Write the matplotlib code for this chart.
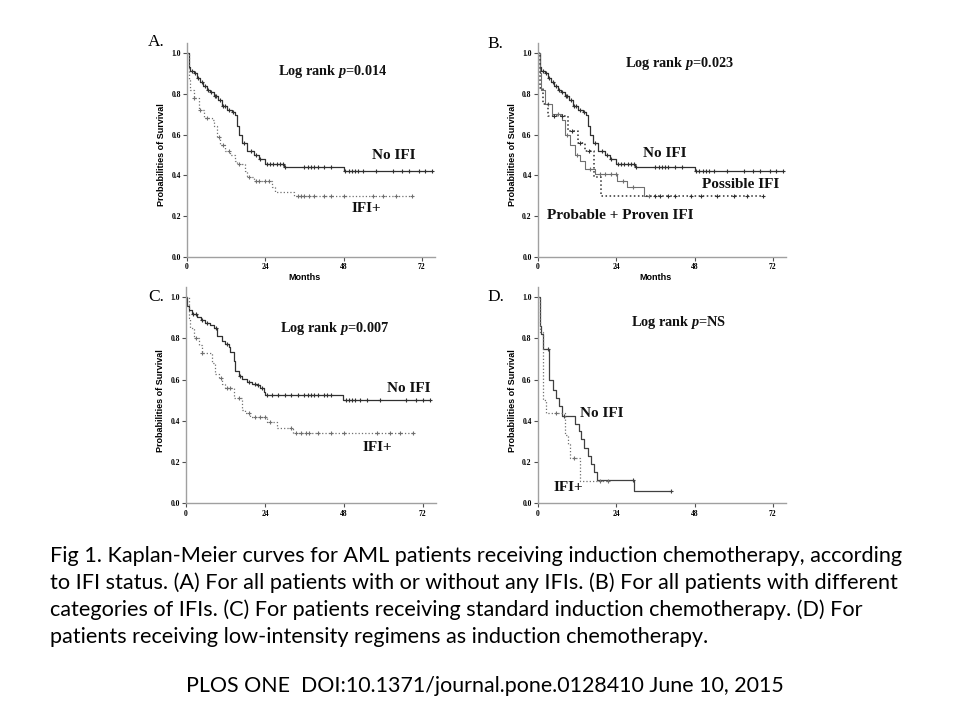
import numpy as np
import matplotlib as mpl
mpl.use('Agg')
import matplotlib.pyplot as plt

# --- survival step data (time in months) ---
# Panel A / B: no IFI
noifi_t = [0, 0.5, 1.0, 2.0, 3.0, 4.1, 5.0, 6.1, 7.0, 8.2, 9.5, 10.7, 12.3, 13.8, 14.8,
           15.3, 15.8, 16.9, 18.4, 20.4, 22.0, 24.0, 29.8, 48.0]
noifi_s = [1.0, 0.93, 0.91, 0.90, 0.88, 0.86, 0.84, 0.82, 0.81, 0.79, 0.77, 0.74, 0.72, 0.71, 0.695,
           0.64, 0.60, 0.56, 0.52, 0.50, 0.48, 0.455, 0.44, 0.42]
noifi_end = 75.0
noifi_cens = [1.5, 2.5, 3.5, 4.5, 5.5, 6.5, 7.5, 8.5, 9.0, 10.0, 11.0, 11.5, 13.0, 14.0, 17.5, 19.5,
              21.0, 22.5, 24.5, 25.5, 26.5, 27.5, 28.5, 29.3, 30.0, 36.0, 37.0, 38.0, 39.0, 40.0,
              42.0, 44.0, 48.5, 49.5, 50.5, 51.5, 52.5, 54.0, 58.0, 63.0, 66.0, 68.0, 71.0, 73.0, 75.0]

# Panel A: IFI+
ifi_t = [0, 0.5, 1.0, 2.0, 3.6, 5.1, 7.7, 8.2, 9.2, 10.2, 11.7, 13.3, 14.8, 15.3, 17.9, 18.4,
         20.4, 26.0, 27.1, 32.9]
ifi_s = [1.0, 0.87, 0.82, 0.78, 0.72, 0.68, 0.67, 0.64, 0.59, 0.55, 0.52, 0.50, 0.47, 0.455, 0.42, 0.39,
         0.373, 0.343, 0.32, 0.30]
ifi_end = 68.9
ifi_cens = [2.2, 4.0, 6.0, 9.8, 11.0, 13.0, 16.0, 19.0, 21.0, 22.0, 24.0, 25.0, 34.0, 35.0, 36.0,
            37.5, 39.0, 42.0, 44.0, 48.0, 57.0, 60.0, 64.0, 68.9]

# Panel B: possible IFI and probable + proven IFI
poss_t = [0, 0.5, 1.0, 2.3, 4.3, 7.4, 8.4, 9.9, 11.4, 13.0, 14.5, 17.5, 24.3, 27.4, 32.5]
poss_s = [1.0, 0.90, 0.82, 0.75, 0.70, 0.67, 0.60, 0.55, 0.50, 0.47, 0.43, 0.405, 0.373, 0.343, 0.30]
poss_end = 34.0
poss_cens = [3.0, 6.0, 9.0, 12.0, 16.0, 19.0, 20.5, 22.5, 24.0, 26.0, 29.0, 34.0]

prob_t = [0, 0.7, 1.5, 3.0, 9.1, 12.2, 14.5, 17.1, 19.2]
prob_s = [1.0, 0.83, 0.75, 0.69, 0.62, 0.56, 0.52, 0.39, 0.30]
prob_end = 68.9
prob_cens = [5.0, 7.5, 10.5, 13.0, 15.5, 36.0, 37.5, 40.0, 42.0, 47.0, 50.0, 55.0, 60.0, 64.0, 68.9]

# Panel C: standard induction
cno_t = [0, 0.3, 0.8, 1.8, 3.3, 4.4, 5.9, 7.4, 8.4, 9.4, 10.9, 11.9, 13.0, 13.5, 14.5, 15.0, 16.0,
         17.0, 18.5, 20.1, 21.6, 22.6, 23.6, 24.1, 47.7]
cno_s = [1.0, 0.96, 0.94, 0.92, 0.905, 0.89, 0.875, 0.865, 0.85, 0.81, 0.79, 0.775, 0.76, 0.735,
         0.69, 0.64, 0.62, 0.605, 0.59, 0.58, 0.575, 0.56, 0.54, 0.525, 0.50]
cno_end = 74.2
cno_cens = [2.0, 3.0, 5.0, 6.5, 9.0, 12.5, 16.5, 19.0, 21.0, 22.0, 23.0, 24.5, 26.0, 28.0, 30.0, 32.0,
            34.0, 36.0, 37.0, 38.0, 39.0, 40.0, 42.0, 43.0, 44.0, 48.5, 49.5, 50.5, 51.5, 53.0, 55.0,
            59.0, 67.0, 70.0, 72.0, 74.2]

cifi_t = [0, 0.8, 1.3, 2.3, 3.8, 4.9, 7.9, 8.9, 9.9, 10.9, 11.9, 14.5, 17.0, 18.0, 19.5, 24.6,
          27.6, 32.5]
cifi_s = [1.0, 0.90, 0.85, 0.80, 0.77, 0.73, 0.68, 0.63, 0.61, 0.58, 0.56, 0.51, 0.455, 0.437, 0.42,
          0.396, 0.364, 0.34]
cifi_end = 69.0
cifi_cens = [3.0, 5.0, 10.5, 12.5, 13.5, 16.0, 19.0, 21.0, 22.5, 24.1, 25.5, 32.0, 33.5, 35.0, 36.5,
             37.5, 40.0, 44.0, 48.0, 58.0, 62.0, 65.0, 69.0]

# Panel D: low-intensity regimens
dno_t = [0, 0.5, 1.0, 1.6, 3.5, 4.6, 5.4, 6.3, 7.3, 11.4, 12.6, 13.3, 14.2, 15.4, 16.3, 17.1, 18.0, 29.3]
dno_s = [1.0, 0.86, 0.82, 0.75, 0.60, 0.55, 0.51, 0.47, 0.425, 0.385, 0.35, 0.31, 0.27, 0.23,
         0.19, 0.15, 0.115, 0.058]
dno_end = 40.7
dno_cens = [3.2, 8.0, 29.0, 40.7]

difi_t = [0, 0.5, 1.4, 2.6, 8.3, 9.2, 9.9, 13.0]
difi_s = [1.0, 0.83, 0.50, 0.44, 0.33, 0.29, 0.22, 0.11]
difi_end = 21.6
difi_cens = [5.4, 11.0, 19.0, 21.6]

months_ticks = [0, 24, 48, 72]
surv_ticks = [0.0, 0.2, 0.4, 0.6, 0.8, 1.0]

caption = ("Fig 1. Kaplan-Meier curves for AML patients receiving induction chemotherapy, according\n"
           "to IFI status. (A) For all patients with or without any IFIs. (B) For all patients with different\n"
           "categories of IFIs. (C) For patients receiving standard induction chemotherapy. (D) For\n"
           "patients receiving low-intensity regimens as induction chemotherapy.")
source = "PLOS ONE  DOI:10.1371/journal.pone.0128410 June 10, 2015"

SERIF = 'Liberation Serif'
SANS = 'Liberation Sans'

plt.rcParams['mathtext.fontset'] = 'custom'
plt.rcParams['mathtext.it'] = 'Liberation Serif:italic:bold'


def km(ax, t, s, end, cens, color, ls, lw=0.9):
    t = list(t) + [end]
    s = list(s) + [s[-1]]
    ax.step(t, s, where='post', color=color, ls=ls, lw=lw)
    # censor marks sit on the curve
    idx = np.searchsorted(np.array(t[:-1]), np.array(cens), side='right') - 1
    ys = np.array(s)[idx]
    ax.plot(cens, ys, ls='none', marker='+', ms=2.6, mew=0.8, color=color)


def setup(ax, xlabel=True):
    ax.set_xlim(0, 76)
    ax.set_ylim(0, 1.05)
    for sp in ['top', 'right']:
        ax.spines[sp].set_visible(False)
    for sp in ['left', 'bottom']:
        ax.spines[sp].set_color('#a0a0a0')
        ax.spines[sp].set_linewidth(1.0)
    ax.set_xticks(months_ticks)
    ax.set_yticks(surv_ticks)
    ax.set_xticklabels([str(m) for m in months_ticks], fontfamily=SERIF, fontweight='bold', fontsize=5.5)
    ax.set_yticklabels(['%.1f' % v for v in surv_ticks], fontfamily=SERIF, fontweight='bold', fontsize=5.5)
    ax.tick_params(length=3, width=0.8, color='#505050', pad=1.5)
    ax.set_ylabel('Probabilities of Survival', fontfamily=SANS, fontweight='bold', fontsize=6.5)
    ax.yaxis.set_label_coords(-0.085, 0.476)
    if xlabel:
        ax.set_xlabel('Months', fontfamily=SANS, fontweight='bold', fontsize=6.5)
        ax.xaxis.set_label_coords(0.474, -0.075)


fig = plt.figure(figsize=(9.6, 7.2), dpi=100)
fig.patch.set_facecolor('white')

axA = fig.add_axes([0.1948, 0.643, 0.2583, 0.2975])
axB = fig.add_axes([0.5604, 0.643, 0.2583, 0.2975])
axC = fig.add_axes([0.1938, 0.301, 0.2604, 0.3004])
axD = fig.add_axes([0.5604, 0.301, 0.2583, 0.3004])

dark = '#303030'
grey = '#707070'

# A
km(axA, noifi_t, noifi_s, noifi_end, noifi_cens, dark, '-')
km(axA, ifi_t, ifi_s, ifi_end, ifi_cens, grey, ':')
setup(axA)

# B
km(axB, noifi_t, noifi_s, noifi_end, noifi_cens, dark, '-')
km(axB, poss_t, poss_s, poss_end, poss_cens, grey, '-', lw=0.8)
km(axB, prob_t, prob_s, prob_end, prob_cens, dark, ':', lw=1.1)
setup(axB)

# C
km(axC, cno_t, cno_s, cno_end, cno_cens, dark, '-')
km(axC, cifi_t, cifi_s, cifi_end, cifi_cens, grey, ':')
setup(axC, xlabel=False)

# D
km(axD, dno_t, dno_s, dno_end, dno_cens, '#404040', '-')
km(axD, difi_t, difi_s, difi_end, difi_cens, grey, ':')
setup(axD, xlabel=False)

lbl = dict(fontfamily=SERIF, fontweight='bold', fontsize=11, color='#111111',
           ha='center', va='center')
ann = dict(fontfamily=SERIF, fontweight='bold', fontsize=10.3, color='#111111',
           ha='center', va='center')

axA.text(44.7, 0.91, r'Log rank $\mathit{p}$=0.014', **ann)
axA.text(63.4, 0.50, 'No IFI', **lbl)
axA.text(55.1, 0.24, 'IFI+', **lbl)

axB.text(43.5, 0.95, r'Log rank $\mathit{p}$=0.023', **ann)
axB.text(38.8, 0.508, 'No IFI', **lbl)
axB.text(62.2, 0.358, 'Possible IFI', **lbl)
axB.text(25.1, 0.206, 'Probable + Proven IFI', **lbl)

axC.text(45.1, 0.85, r'Log rank $\mathit{p}$=0.007', **ann)
axC.text(67.6, 0.555, 'No IFI', **lbl)
axC.text(58.1, 0.273, 'IFI+', **lbl)

axD.text(43.0, 0.88, r'Log rank $\mathit{p}$=NS', **ann)
axD.text(19.5, 0.437, 'No IFI', **lbl)
axD.text(9.2, 0.076, 'IFI+', **lbl)

for letter, x, y in [('A.', 148, 42), ('B.', 487, 44), ('C.', 148, 297), ('D.', 487, 297)]:
    fig.text(x / 960, 1 - y / 720, letter, fontfamily=SERIF, fontsize=12.5, ha='left', va='center')

fig.text(50 / 960, 1 - 546 / 720, caption, fontfamily='Lato', fontsize=15.6, ha='left', va='top',
         linespacing=1.4)
fig.text(485 / 960, 1 - 686 / 720, source, fontfamily='Lato', fontsize=15.4, ha='center', va='center')

fig.savefig('out.png', dpi=100, facecolor='white')
